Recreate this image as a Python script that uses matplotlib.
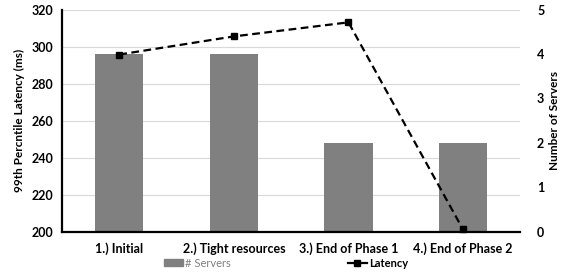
import matplotlib
matplotlib.use("Agg")
import matplotlib.pyplot as plt
from matplotlib.patches import Patch
from matplotlib.lines import Line2D

categories = ["1.) Initial", "2.) Tight resources", "3.) End of Phase 1", "4.) End of Phase 2"]
servers = [4, 4, 2, 2]
latency = [295.7, 305.5, 313.1, 201.1]

plt.rcParams['font.family'] = ['Lato', 'DejaVu Sans']
plt.rcParams['font.weight'] = 'bold'

fig = plt.figure(figsize=(5.61, 2.74), dpi=100)
ax1 = fig.add_axes([0.1105, 0.155, 0.817, 0.81])
ax2 = ax1.twinx()

x = list(range(len(categories)))
ax2.bar(x, servers, width=0.42, color='#808080', zorder=2)
ax2.set_ylim(0, 5)
ax2.set_yticks([0, 1, 2, 3, 4, 5])

ax1.set_zorder(ax2.get_zorder() + 1)
ax1.patch.set_visible(False)
ax1.plot(x, latency, color='black', linestyle=(0, (3.5, 2.0)), linewidth=1.6,
         marker='s', markersize=5, zorder=5, clip_on=False)
ax1.set_ylim(200, 320)
ax1.set_yticks(range(200, 321, 20))
ax1.set_xlim(-0.5, 3.5)
ax1.set_xticks(x)
ax1.set_xticklabels(categories)

for v in range(200, 321, 20):
    ax2.axhline((v - 200) / 120 * 5, color='#d9d9d9', linewidth=0.8, zorder=0)

for ax in (ax1, ax2):
    for s in ax.spines.values():
        s.set_visible(False)
    ax.tick_params(length=0, labelsize=9)
ax1.spines['left'].set_visible(True)
ax1.spines['left'].set_linewidth(1.6)
ax1.spines['bottom'].set_visible(True)
ax1.spines['bottom'].set_linewidth(1.6)
ax1.tick_params(axis='y', pad=6)
ax1.tick_params(axis='x', pad=8)
ax2.tick_params(axis='y', pad=12)

ax1.set_ylabel("99th Percntile Latency (ms)", fontsize=8.5, fontweight='bold', labelpad=5)
ax2.set_ylabel("Number of Servers", fontsize=8.5, fontweight='bold', labelpad=3)

handles = [Patch(color='#808080', label='# Servers'),
           Line2D([0], [0], color='black', linestyle='-', linewidth=1.6, marker='s',
                  markersize=5, label='Latency')]
leg = fig.legend(handles=handles, loc='center', bbox_to_anchor=(0.51, 0.04), ncol=2,
                 frameon=False, fontsize=8, columnspacing=10.5, handlelength=1.7,
                 handletextpad=0.2, handleheight=0.6)
texts = leg.get_texts()
texts[0].set_color('#808080')
texts[0].set_fontweight('normal')
texts[1].set_fontweight('bold')

fig.savefig("out.png", dpi=100)
